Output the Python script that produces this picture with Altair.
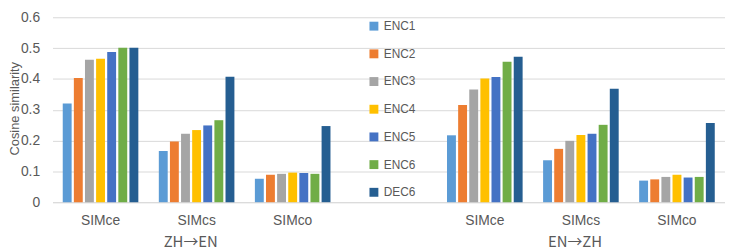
import altair as alt
import pandas as pd

directions = ["ZH→EN", "EN→ZH"]
metrics = ["SIMce", "SIMcs", "SIMco"]
series = ["ENC1", "ENC2", "ENC3", "ENC4", "ENC5", "ENC6", "DEC6"]
colors = ["#5B9BD5", "#ED7D31", "#A5A5A5", "#FFC000", "#4472C4", "#70AD47", "#255E91"]

zh_en_SIMce = [0.320, 0.403, 0.462, 0.465, 0.487, 0.501, 0.501]
zh_en_SIMcs = [0.166, 0.197, 0.222, 0.234, 0.249, 0.266, 0.407]
zh_en_SIMco = [0.076, 0.089, 0.092, 0.096, 0.095, 0.092, 0.247]
en_zh_SIMce = [0.217, 0.315, 0.366, 0.401, 0.406, 0.456, 0.472]
en_zh_SIMcs = [0.136, 0.173, 0.199, 0.218, 0.222, 0.251, 0.368]
en_zh_SIMco = [0.070, 0.074, 0.082, 0.089, 0.080, 0.082, 0.257]

table = {
    "ZH→EN": [zh_en_SIMce, zh_en_SIMcs, zh_en_SIMco],
    "EN→ZH": [en_zh_SIMce, en_zh_SIMcs, en_zh_SIMco],
}

rows = []
for d in directions:
    for m, vals in zip(metrics, table[d]):
        for s, v in zip(series, vals):
            rows.append({"key": f"{d}|{m}", "series": s, "value": v})
df = pd.DataFrame(rows)

domain = [f"{directions[0]}|{m}" for m in metrics] + ["gap"] + [f"{directions[1]}|{m}" for m in metrics]
xscale = alt.Scale(domain=domain, type="band", paddingInner=0.19, paddingOuter=0.095)

FONT = "Liberation Sans"
GREY = "#595959"

xaxis = alt.Axis(labelExpr="datum.value == 'gap' ? '' : slice(datum.value, 6)",
                 labelAngle=0, ticks=False, tickSize=0, domainColor="#D9D9D9",
                 labelPadding=12, labelFontSize=14, labelColor=GREY, labelFont=FONT)

bars = alt.Chart(df).mark_bar().encode(
    x=alt.X("key:N", scale=xscale, title=None, axis=xaxis),
    xOffset=alt.XOffset("series:N", sort=series,
                        scale=alt.Scale(domain=series, paddingInner=0.2, paddingOuter=0.1)),
    y=alt.Y("value:Q", scale=alt.Scale(domain=[0, 0.6], nice=False),
            axis=alt.Axis(values=[0, 0.1, 0.2, 0.3, 0.4, 0.5, 0.6], format=".1~f",
                          title="Cosine similarity", titleFontSize=13, titleFont=FONT,
                          titleColor=GREY, titleFontWeight="normal", titleX=-38, titleY=92,
                          titleBaseline="middle",
                          domain=False, ticks=False, tickSize=0, labelPadding=13,
                          labelFontSize=14, labelColor=GREY, labelFont=FONT,
                          grid=True, gridColor="#D9D9D9")),
    color=alt.Color("series:N", sort=series,
                    scale=alt.Scale(domain=series, range=colors),
                    legend=alt.Legend(orient="none", legendX=319, legendY=3, title=None,
                                      symbolType="square", symbolSize=81, symbolStrokeWidth=0,
                                      labelFontSize=12, labelColor=GREY, labelFont=FONT,
                                      rowPadding=16, labelOffset=4, padding=0)),
)

groups = pd.DataFrame({"key": [f"{d}|SIMcs" for d in directions], "label": directions})
group_text = alt.Chart(groups).mark_text(fontSize=15, font="Noto Sans CJK SC", color=GREY,
                                         baseline="middle", dx=-6).encode(
    x=alt.X("key:N", scale=xscale, title=None, axis=xaxis),
    y=alt.value(227),
    text="label:N",
)

chart = alt.layer(bars, group_text).properties(
    width=680, height=187,
    autosize=alt.AutoSizeParams(type="none"),
    padding={"left": 45, "top": 8, "right": 0, "bottom": 48},
).configure_view(stroke=None)

chart.save("out.html", embed_options={"renderer": "svg", "actions": False})
